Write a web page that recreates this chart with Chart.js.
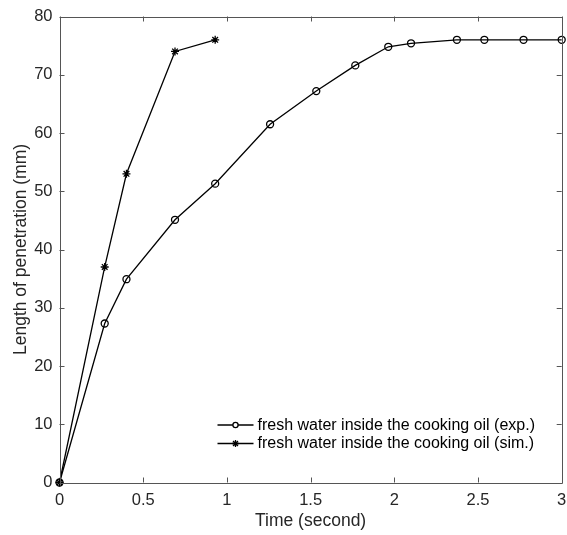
<!DOCTYPE html>
<html>
<head>
<meta charset="utf-8">
<script src="https://cdn.jsdelivr.net/npm/chart.js@4.4.1/dist/chart.umd.min.js"></script>
<style>
  html, body { margin: 0; padding: 0; background: #fff; }
  #wrap { width: 567px; height: 535px; position: relative; }
</style>
</head>
<body>
<div id="wrap"><canvas id="c" width="567" height="535"></canvas></div>
<script>
// ---- data ----
const expTime  = [0, 0.27, 0.40, 0.69, 0.93, 1.258, 1.534, 1.767, 1.964, 2.10, 2.374, 2.538, 2.772, 3.0];
const expLen   = [0, 27.3, 34.9, 45.1, 51.3, 61.5, 67.2, 71.6, 74.8, 75.4, 76.0, 76.0, 76.0, 76.0];
const simTime  = [0, 0.27, 0.40, 0.69, 0.93];
const simLen   = [0, 37.0, 53.0, 74.0, 76.0];
const seriesLabels = ['fresh water inside the cooking oil (exp.)', 'fresh water inside the cooking oil (sim.)'];
const xTicks = [0, 0.5, 1, 1.5, 2, 2.5, 3];
const yTicks = [0, 10, 20, 30, 40, 50, 60, 70, 80];
const xTitle = 'Time (second)';
const yTitle = 'Length of penetration (mm)';

const FONT = '"Liberation Sans", Arial, Helvetica, sans-serif';
const AXIS_COLOR = '#555555';
const TEXT_COLOR = '#262626';

function toPts(xs, ys) { return xs.map((x, i) => ({ x: x, y: ys[i] })); }

function drawMarker(ctx, style, x, y, r) {
  ctx.beginPath();
  if (style === 'circle') {
    ctx.arc(x, y, r, 0, Math.PI * 2);
  } else {
    ctx.moveTo(x - r, y); ctx.lineTo(x + r, y);
    ctx.moveTo(x, y - r); ctx.lineTo(x, y + r);
    const d = r * Math.SQRT1_2;
    ctx.moveTo(x - d, y - d); ctx.lineTo(x + d, y + d);
    ctx.moveTo(x - d, y + d); ctx.lineTo(x + d, y - d);
  }
  ctx.stroke();
}

const boxPlugin = {
  id: 'matlabBox',
  afterDraw(chart) {
    const ctx = chart.ctx;
    const a = chart.chartArea;
    const xs = chart.scales.x, ys = chart.scales.y;
    ctx.save();
    ctx.strokeStyle = AXIS_COLOR;
    ctx.lineWidth = 1;
    ctx.beginPath();
    ctx.rect(Math.round(a.left) + 0.5, Math.round(a.top) + 0.5, Math.round(a.right - a.left), Math.round(a.bottom - a.top));
    ctx.stroke();
    const tl = 5;
    ctx.beginPath();
    xTicks.forEach(v => {
      const px = Math.round(xs.getPixelForValue(v)) + 0.5;
      ctx.moveTo(px, a.bottom); ctx.lineTo(px, a.bottom - tl);
      ctx.moveTo(px, a.top); ctx.lineTo(px, a.top + tl);
    });
    yTicks.forEach(v => {
      const py = Math.round(ys.getPixelForValue(v)) + 0.5;
      ctx.moveTo(a.left, py); ctx.lineTo(a.left + tl, py);
      ctx.moveTo(a.right, py); ctx.lineTo(a.right - tl, py);
    });
    ctx.stroke();

    // legend inside the axes
    const rows = [
      { label: chart.data.datasets[0].label, style: 'circle', r: 2.6 },
      { label: chart.data.datasets[1].label, style: 'star', r: 3.5 }
    ];
    const lx0 = a.left + 158, lx1 = a.left + 194, tx = a.left + 198;
    rows.forEach((row, i) => {
      const y = a.bottom - 57.5 + i * 18.5;
      ctx.strokeStyle = '#000';
      ctx.lineWidth = 1.3;
      ctx.beginPath(); ctx.moveTo(lx0, y); ctx.lineTo(lx1, y); ctx.stroke();
      ctx.fillStyle = '#fff';
      if (row.style === 'circle') { ctx.beginPath(); ctx.arc((lx0 + lx1) / 2, y, row.r, 0, Math.PI * 2); ctx.fill(); }
      drawMarker(ctx, row.style, (lx0 + lx1) / 2, y, row.r);
      ctx.fillStyle = '#000';
      ctx.font = '16px ' + FONT;
      ctx.textBaseline = 'middle';
      ctx.textAlign = 'left';
      ctx.fillText(row.label, tx, y + 0.5);
    });
    ctx.restore();
  }
};

new Chart(document.getElementById('c'), {
  type: 'line',
  data: {
    datasets: [
      {
        label: seriesLabels[0],
        data: toPts(expTime, expLen),
        borderColor: '#000', backgroundColor: 'rgba(0,0,0,0)',
        borderWidth: 1.3,
        pointStyle: 'circle', pointRadius: 3.5, pointBorderWidth: 1.3,
        pointBorderColor: '#000', pointBackgroundColor: 'rgba(0,0,0,0)',
        tension: 0, clip: false
      },
      {
        label: seriesLabels[1],
        data: toPts(simTime, simLen),
        borderColor: '#000', backgroundColor: 'rgba(0,0,0,0)',
        borderWidth: 1.3,
        pointStyle: 'star', pointRadius: 4, pointBorderWidth: 1.3,
        pointBorderColor: '#000', pointBackgroundColor: '#000',
        tension: 0, clip: false
      }
    ]
  },
  options: {
    responsive: false,
    animation: false,
    events: [],
    layout: { padding: { left: 0, right: 3, top: 16.5, bottom: 0 } },
    plugins: { legend: { display: false }, tooltip: { enabled: false } },
    scales: {
      x: {
        type: 'linear', min: 0, max: 3,
        afterFit(s) { s.height = 52.5; s.paddingLeft = 0; s.paddingRight = 0; },
        afterBuildTicks(s) { s.ticks = xTicks.map(v => ({ value: v })); },
        grid: { display: false, drawTicks: false },
        border: { display: false },
        ticks: { color: TEXT_COLOR, font: { family: FONT, size: 16.5 }, padding: 8, maxRotation: 0,
                 callback: v => String(v) },
        title: { display: true, text: xTitle, color: TEXT_COLOR, font: { family: FONT, size: 17.5 }, padding: { top: 0, bottom: 3 } }
      },
      y: {
        type: 'linear', min: 0, max: 80,
        afterFit(s) { s.width = 59.5; s.paddingTop = 0; s.paddingBottom = 0; },
        afterBuildTicks(s) { s.ticks = yTicks.map(v => ({ value: v })); },
        grid: { display: false, drawTicks: false },
        border: { display: false },
        ticks: { color: TEXT_COLOR, font: { family: FONT, size: 16.5 }, padding: 7,
                 callback: v => String(v) },
        title: { display: true, text: yTitle, color: TEXT_COLOR, font: { family: FONT, size: 17.5 }, padding: { top: 11, bottom: 0 } }
      }
    }
  },
  plugins: [boxPlugin]
});
</script>
</body>
</html>
